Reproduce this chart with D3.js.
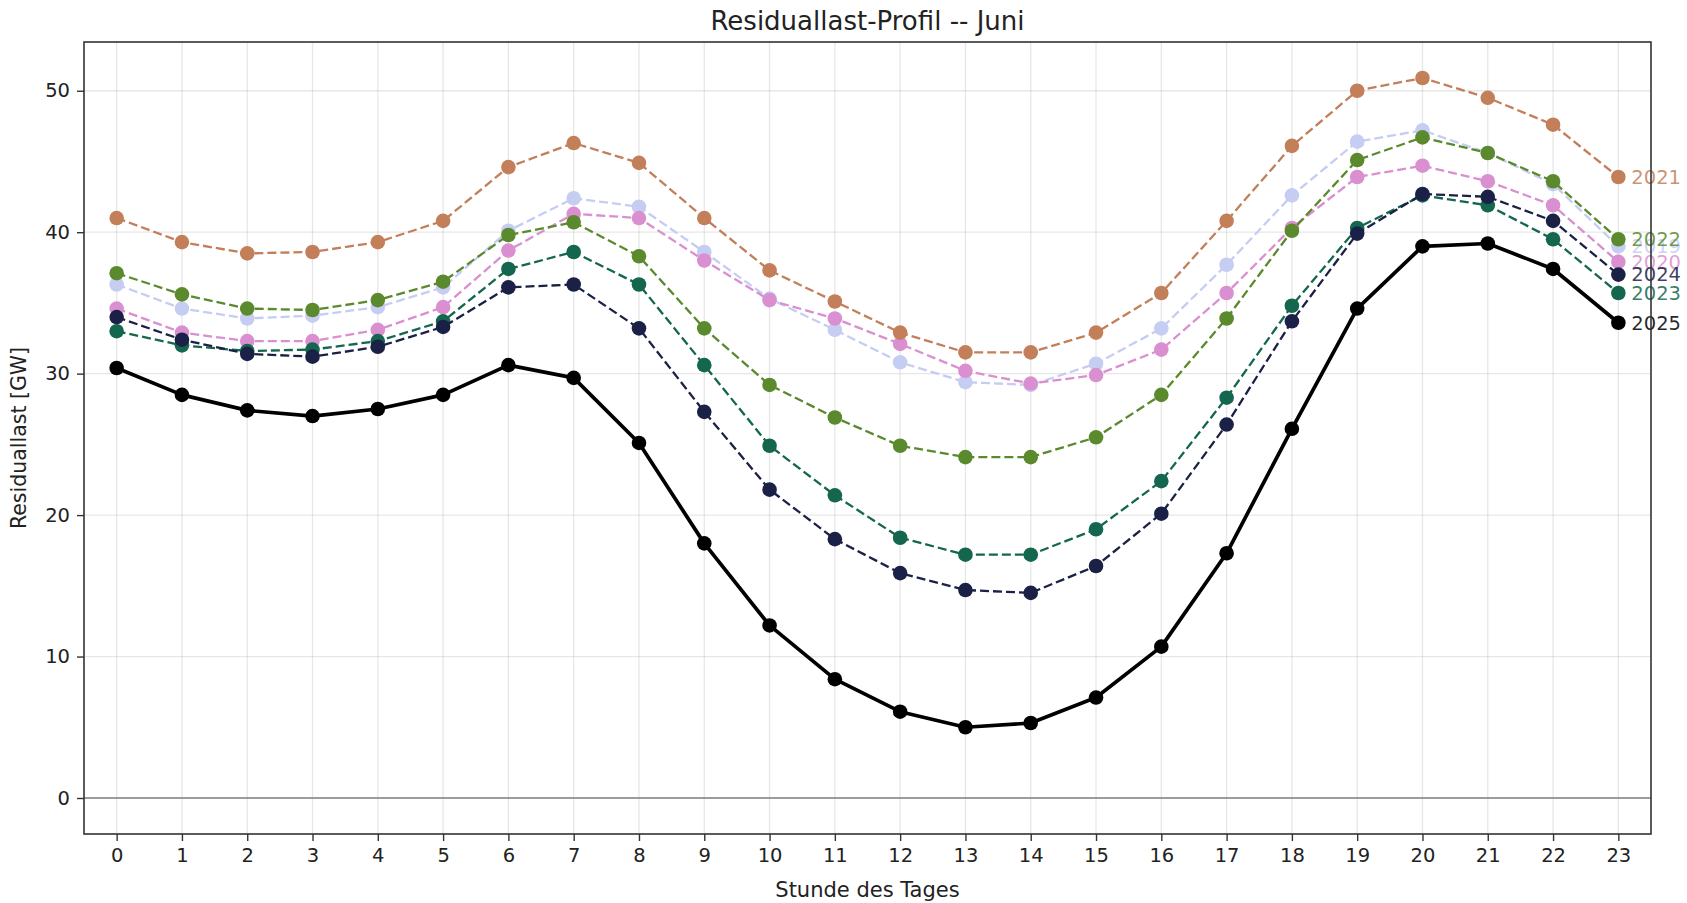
<!DOCTYPE html>
<html>
<head>
<meta charset="utf-8">
<script src="https://cdn.jsdelivr.net/npm/d3@7"></script>
<style>
  html, body { margin: 0; padding: 0; background: #ffffff; }
  svg { display: block; font-family: "DejaVu Sans", sans-serif; }
</style>
</head>
<body>
<svg id="chart" width="1687" height="903"></svg>
<script>
// ---- data ----
const hours = [0,1,2,3,4,5,6,7,8,9,10,11,12,13,14,15,16,17,18,19,20,21,22,23];
const years = ["2019","2020","2021","2022","2023","2024","2025"];
const v2019 = [36.3,34.6,33.9,34.1,34.7,36.1,40.1,42.4,41.8,38.6,35.3,33.1,30.8,29.4,29.2,30.7,33.2,37.7,42.6,46.4,47.2,45.6,43.4,39.0];
const v2020 = [34.6,32.9,32.3,32.3,33.1,34.7,38.7,41.3,41.0,38.0,35.2,33.9,32.1,30.2,29.3,29.9,31.7,35.7,40.3,43.9,44.7,43.6,41.9,37.9];
const v2021 = [41.0,39.3,38.5,38.6,39.3,40.8,44.6,46.3,44.9,41.0,37.3,35.1,32.9,31.5,31.5,32.9,35.7,40.8,46.1,50.0,50.9,49.5,47.6,43.9];
const v2022 = [37.1,35.6,34.6,34.5,35.2,36.5,39.8,40.7,38.3,33.2,29.2,26.9,24.9,24.1,24.1,25.5,28.5,33.9,40.1,45.1,46.7,45.6,43.6,39.5];
const v2023 = [33.0,32.0,31.6,31.7,32.3,33.7,37.4,38.6,36.3,30.6,24.9,21.4,18.4,17.2,17.2,19.0,22.4,28.3,34.8,40.3,42.6,41.9,39.5,35.7];
const v2024 = [34.0,32.4,31.4,31.2,31.9,33.3,36.1,36.3,33.2,27.3,21.8,18.3,15.9,14.7,14.5,16.4,20.1,26.4,33.7,39.9,42.7,42.5,40.8,37.0];
const v2025 = [30.4,28.5,27.4,27.0,27.5,28.5,30.6,29.7,25.1,18.0,12.2,8.4,6.1,5.0,5.3,7.1,10.7,17.3,26.1,34.6,39.0,39.2,37.4,33.6];
const seriesValues = [v2019, v2020, v2021, v2022, v2023, v2024, v2025];
const colors = ["#c6cdf3","#d98fd0","#c27f5a","#5a8a2d","#15664f","#1b2046","#000000"];
const yTicks = [0,10,20,30,40,50];
const titleText = "Residuallast-Profil -- Juni";
const xLabel = "Stunde des Tages";
const yLabel = "Residuallast [GW]";

// ---- layout ----
const svg = d3.select("#chart");
const L = 84, R = 1651, T = 42, B = 834;

const x = d3.scaleLinear().domain([-0.5, 23.5]).range([L, R]);
const allVals = seriesValues.flat().concat([0]);
const yMin = d3.min(allVals), yMax = d3.max(allVals);
const pad = (yMax - yMin) * 0.05;
const y = d3.scaleLinear().domain([yMin - pad, yMax + pad]).range([B, T]);

// grid
const grid = svg.append("g");
grid.selectAll("line.gx").data(hours).enter().append("line")
  .attr("x1", d => x(d)).attr("x2", d => x(d)).attr("y1", T).attr("y2", B)
  .attr("stroke", "#b0b0b0").attr("stroke-opacity", 0.3).attr("stroke-width", 1.3);
grid.selectAll("line.gy").data(yTicks).enter().append("line")
  .attr("x1", L).attr("x2", R).attr("y1", d => y(d)).attr("y2", d => y(d))
  .attr("stroke", "#b0b0b0").attr("stroke-opacity", 0.3).attr("stroke-width", 1.3);

// zero line
svg.append("line").attr("x1", L).attr("x2", R).attr("y1", y(0)).attr("y2", y(0))
  .attr("stroke", "#808080").attr("stroke-width", 1.6);

// series
const line = d3.line().x((d, i) => x(hours[i])).y(d => y(d));
years.forEach((yr, k) => {
  const vals = seriesValues[k];
  const g = svg.append("g");
  const isLast = yr === "2025";
  g.append("path").datum(vals)
    .attr("d", line)
    .attr("fill", "none")
    .attr("stroke", colors[k])
    .attr("stroke-width", isLast ? 3.7 : 2.3)
    .attr("stroke-dasharray", isLast ? null : "9,4")
    .attr("stroke-linejoin", "round");
  g.selectAll("circle").data(vals).enter().append("circle")
    .attr("cx", (d, i) => x(hours[i])).attr("cy", d => y(d))
    .attr("r", 7.3).attr("fill", colors[k]);
  g.append("text")
    .attr("x", x(23) + 13).attr("y", y(vals[vals.length - 1]))
    .attr("dy", "0.35em")
    .attr("font-size", 19.5)
    .attr("fill", colors[k])
    .attr("fill-opacity", 0.85)
    .text(yr);
});

// frame
svg.append("rect").attr("x", L).attr("y", T).attr("width", R - L).attr("height", B - T)
  .attr("fill", "none").attr("stroke", "#333333").attr("stroke-width", 1.6);

// axes
const xAxis = d3.axisBottom(x).tickValues(hours).tickFormat(d3.format("d")).tickSize(7).tickPadding(7);
const gx = svg.append("g").attr("transform", `translate(0,${B})`).call(xAxis);
gx.select(".domain").remove();
gx.selectAll(".tick line").attr("stroke", "#333").attr("stroke-width", 1.4);
gx.selectAll(".tick text").attr("font-size", 19.5).attr("font-family", "DejaVu Sans").attr("fill", "#222");

const yAxis = d3.axisLeft(y).tickValues(yTicks).tickFormat(d3.format("d")).tickSize(7).tickPadding(7);
const gy = svg.append("g").attr("transform", `translate(${L},0)`).call(yAxis);
gy.select(".domain").remove();
gy.selectAll(".tick line").attr("stroke", "#333").attr("stroke-width", 1.4);
gy.selectAll(".tick text").attr("font-size", 19.5).attr("font-family", "DejaVu Sans").attr("fill", "#222");

// labels
svg.append("text").attr("x", (L + R) / 2).attr("y", 30).attr("text-anchor", "middle")
  .attr("font-size", 26).attr("fill", "#222").text(titleText);
svg.append("text").attr("x", (L + R) / 2).attr("y", 897).attr("text-anchor", "middle")
  .attr("font-size", 21).attr("fill", "#222").text(xLabel);
svg.append("text").attr("transform", `translate(26,${(T + B) / 2}) rotate(-90)`)
  .attr("text-anchor", "middle").attr("font-size", 20.5).attr("fill", "#222").text(yLabel);
</script>
</body>
</html>
